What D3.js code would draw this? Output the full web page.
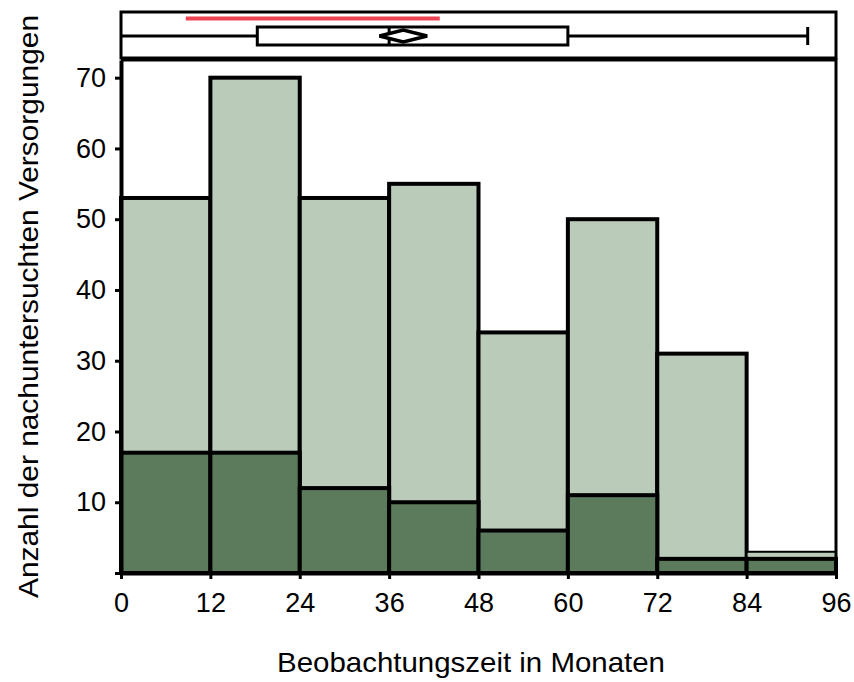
<!DOCTYPE html>
<html>
<head>
<meta charset="utf-8">
<script src="https://cdn.jsdelivr.net/npm/d3@7"></script>
<style>
  body { margin: 0; background: #fff; }
  text { font-family: "Liberation Sans", Arial, sans-serif; fill: #000; }
</style>
</head>
<body>
<svg id="chart" width="854" height="682"></svg>
<script>
// bins (months) and counts
let binStarts = [0, 12, 24, 36, 48, 60, 72, 84];
let binWidth = 12;
let totalCounts = [53, 70, 53, 55, 34, 50, 31, 3];
let subCounts = [17, 17, 12, 10, 6, 11, 2, 2];
let xTicks = [0, 12, 24, 36, 48, 60, 72, 84, 96];
let yTicks = [10, 20, 30, 40, 50, 60, 70];

// box plot summary (months)
let boxStats = { min: 0, q1: 18.3, median: 36, mean: 37.9, q3: 60, max: 92.2 };
let meanCI = [34.7, 41.1];
let shortestHalf = [8.7, 42.8];

let svg = d3.select("#chart");
let margin = { top: 60, right: 18, bottom: 109, left: 121 };
let width = 854, height = 682;

let x = d3.scaleLinear()
  .domain([0, 96])
  .range([margin.left, width - margin.right]);

let y = d3.scaleLinear()
  .domain([0, 72.5])
  .range([height - margin.bottom, margin.top]);

let lightColour = "#bacbba";
let darkColour = "#5c7a5c";

// bars
let bars = svg.append("g");
bars.selectAll(".total")
  .data(binStarts)
  .enter().append("rect")
    .attr("x", function(d) { return x(d); })
    .attr("y", function(d, i) { return y(totalCounts[i]); })
    .attr("width", function(d) { return x(d + binWidth) - x(d); })
    .attr("height", function(d, i) { return y(0) - y(totalCounts[i]); })
    .style("fill", lightColour)
    .style("stroke", "#000")
    .style("stroke-width", function(d, i) { return i == 7 ? 2 : 4; });

bars.selectAll(".sub")
  .data(binStarts)
  .enter().append("rect")
    .attr("x", function(d) { return x(d); })
    .attr("y", function(d, i) { return y(subCounts[i]); })
    .attr("width", function(d) { return x(d + binWidth) - x(d); })
    .attr("height", function(d, i) { return y(0) - y(subCounts[i]); })
    .style("fill", darkColour)
    .style("stroke", "#000")
    .style("stroke-width", 4);

// plot frame (top and right)
svg.append("path")
  .attr("d", "M" + x(0) + "," + y(72.5) + "H" + x(96) + "V" + y(0))
  .style("fill", "none")
  .style("stroke", "#000")
  .style("stroke-width", 3);

// axes
let xAxis = svg.append("g")
  .attr("transform", "translate(0," + y(0) + ")")
  .call(d3.axisBottom(x).tickValues(xTicks).tickSize(6).tickSizeOuter(0).tickPadding(14));

let yAxis = svg.append("g")
  .attr("transform", "translate(" + x(0) + ",0)")
  .call(d3.axisLeft(y).tickValues([0].concat(yTicks)).tickSize(6).tickSizeOuter(0).tickPadding(9)
    .tickFormat(function(d) { return d == 0 ? "" : d; }));

[xAxis, yAxis].forEach(function(a) {
  a.select(".domain").style("stroke-width", 4);
  a.selectAll(".tick line").style("stroke-width", 3);
  a.selectAll(".tick text").style("font-size", "27px");
});

// axis titles
svg.append("text")
  .attr("x", 471)
  .attr("y", 672)
  .attr("text-anchor", "middle")
  .attr("textLength", 388)
  .attr("lengthAdjust", "spacingAndGlyphs")
  .style("font-size", "28px")
  .text("Beobachtungszeit in Monaten");

svg.append("text")
  .attr("transform", "translate(38,306.5) rotate(-90)")
  .attr("text-anchor", "middle")
  .attr("textLength", 583)
  .attr("lengthAdjust", "spacingAndGlyphs")
  .style("font-size", "28px")
  .text("Anzahl der nachuntersuchten Versorgungen");

// box plot panel
let box = svg.append("g");
let boxTop = 12, boxBottom = 58, cy = 36;

box.append("rect")
  .attr("x", x(0))
  .attr("y", boxTop)
  .attr("width", x(96) - x(0))
  .attr("height", boxBottom - boxTop)
  .style("fill", "none")
  .style("stroke", "#000")
  .style("stroke-width", 3);

box.append("line")
  .attr("x1", x(shortestHalf[0])).attr("x2", x(shortestHalf[1]))
  .attr("y1", 18.5).attr("y2", 18.5)
  .style("stroke", "#ec4452")
  .style("stroke-width", 4);

box.append("line")
  .attr("x1", x(boxStats.min)).attr("x2", x(boxStats.max))
  .attr("y1", cy).attr("y2", cy)
  .style("stroke", "#000")
  .style("stroke-width", 3);

box.append("line")
  .attr("x1", x(boxStats.max)).attr("x2", x(boxStats.max))
  .attr("y1", cy - 9).attr("y2", cy + 9)
  .style("stroke", "#000")
  .style("stroke-width", 3);

box.append("rect")
  .attr("x", x(boxStats.q1))
  .attr("y", 27)
  .attr("width", x(boxStats.q3) - x(boxStats.q1))
  .attr("height", 18)
  .style("fill", "#fff")
  .style("stroke", "#000")
  .style("stroke-width", 3);

box.append("line")
  .attr("x1", x(boxStats.median)).attr("x2", x(boxStats.median))
  .attr("y1", 28).attr("y2", 44)
  .style("stroke", "#000")
  .style("stroke-width", 3);

box.append("path")
  .attr("d", "M" + x(meanCI[0]) + "," + cy
    + "L" + x(boxStats.mean) + "," + (cy - 6)
    + "L" + x(meanCI[1]) + "," + cy
    + "L" + x(boxStats.mean) + "," + (cy + 6) + "Z")
  .style("fill", "#fff")
  .style("stroke", "#000")
  .style("stroke-width", 3.5);
</script>
</body>
</html>
